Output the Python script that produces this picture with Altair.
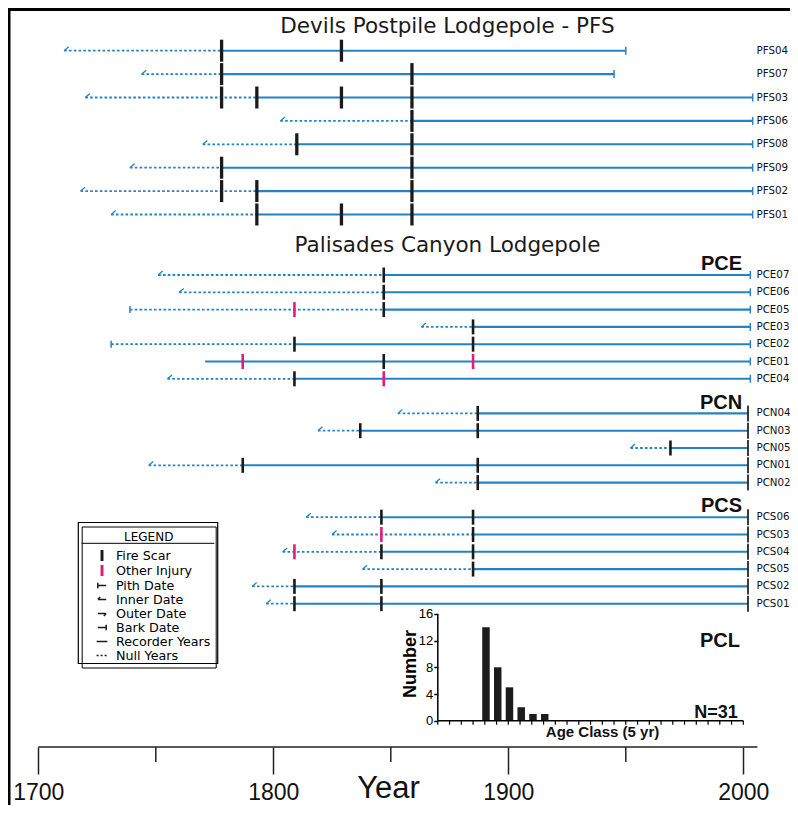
import altair as alt
import pandas as pd

# ---------------- values ----------------
PFS_TREES = ["PFS04", "PFS07", "PFS03", "PFS06", "PFS08", "PFS09", "PFS02", "PFS01"]
PFS_FIRST = [1711, 1744, 1720, 1803, 1770, 1739, 1718, 1731]
PFS_FIRST_KIND = ["inner", "inner", "inner", "inner", "inner", "inner", "inner", "inner"]
PFS_RECORD = [1778, 1778, 1793, 1859, 1810, 1778, 1793, 1793]
PFS_LAST = [1950, 1945, 2004, 2004, 2004, 2004, 2004, 2004]
PFS_SCARS = [[1778, 1829], [1778, 1859], [1778, 1793, 1829, 1859], [1859],
             [1810, 1859], [1778, 1859], [1778, 1793, 1859], [1793, 1829, 1859]]
PFS_INJURY = [[], [], [], [], [], [], [], []]

PCE_TREES = ["PCE07", "PCE06", "PCE05", "PCE03", "PCE02", "PCE01", "PCE04"]
PCE_FIRST = [1751, 1760, 1739, 1863, 1731, 1771, 1755]
PCE_FIRST_KIND = ["inner", "inner", "pith", "inner", "pith", "none", "inner"]
PCE_RECORD = [1847, 1847, 1847, 1885, 1809, 1771, 1809]
PCE_LAST = [2003, 2003, 2003, 2003, 2003, 2003, 2003]
PCE_SCARS = [[1847], [1847], [1847], [1885], [1809, 1885], [1847], [1809]]
PCE_INJURY = [[], [], [1809], [], [], [1787, 1885], [1847]]

PCN_TREES = ["PCN04", "PCN03", "PCN05", "PCN01", "PCN02"]
PCN_FIRST = [1853, 1819, 1952, 1747, 1869]
PCN_FIRST_KIND = ["inner", "inner", "inner", "inner", "inner"]
PCN_RECORD = [1887, 1837, 1969, 1787, 1887]
PCN_LAST = [2002, 2002, 2002, 2002, 2002]
PCN_SCARS = [[1887], [1837, 1887], [1969], [1787, 1887], [1887]]
PCN_INJURY = [[], [], [], [], []]

PCS_TREES = ["PCS06", "PCS03", "PCS04", "PCS05", "PCS02", "PCS01"]
PCS_FIRST = [1814, 1825, 1804, 1838, 1791, 1797]
PCS_FIRST_KIND = ["inner", "inner", "inner", "inner", "inner", "inner"]
PCS_RECORD = [1846, 1885, 1846, 1885, 1809, 1809]
PCS_LAST = [2002, 2002, 2002, 2002, 2002, 2002]
PCS_SCARS = [[1846, 1885], [1885], [1846, 1885], [1885], [1809, 1846], [1809, 1846]]
PCS_INJURY = [[], [1846], [1809], [], [], []]

AGE_CLASS_START = [1888, 1893, 1898, 1903, 1908, 1913]
AGE_CLASS_COUNT = [14, 8, 5, 2, 1, 1]
AGE_N = 31

YEAR_TICKS = [1700, 1800, 1900, 2000]
YEAR_MINOR = [1750, 1850, 1950]
YEAR_AXIS_SPAN = [1700, 2006]
HIST_Y_TICKS = [0, 4, 8, 12, 16]
HIST_X_TICKS = [1870, 1875, 1880, 1885, 1890, 1895, 1900, 1905, 1910, 1915, 1920,
                1925, 1930, 1935, 1940, 1945, 1950, 1955, 1960, 1965, 1970, 1975,
                1980, 1985, 1990, 1995, 2000]

TITLE_1 = "Devils Postpile Lodgepole - PFS"
TITLE_2 = "Palisades Canyon Lodgepole"
LEGEND_ITEMS = ["Fire Scar", "Other Injury", "Pith Date", "Inner Date",
                "Outer Date", "Bark Date", "Recorder Years", "Null Years"]

# ---------------- styles / layout ----------------
BLUE = "#2483c5"
BLACK = "#1a1a1a"
PINK = "#e4197c"
ROUND = "DejaVu Sans"
ARIAL = "Liberation Sans"

SVG_W, SVG_H = 782, 797
PLOT_W, PLOT_H = 782, 739
PX_PER_YEAR = 2.35
X0 = 1700 - 30.3 / PX_PER_YEAR
X1 = X0 + PLOT_W / PX_PER_YEAR
XSCALE = alt.Scale(domain=[X0, X1], nice=False, zero=False, padding=0)
YSCALE = alt.Scale(domain=[0, PLOT_H], reverse=True, nice=False, zero=False, padding=0)

PFS_ROW0, PFS_STEP = 42.7, 23.4
PC_ROW0, PC_STEP = 267.0, 17.3
PC_SLOT0 = {"PCE": 0, "PCN": 8, "PCS": 14}
END_STYLE = {"PFS": "bark", "PCE": "bark", "PCN": "black", "PCS": "black"}
LABEL_YEAR = 2005.6
GROUP_LABEL_YEAR = 1999.5
TITLE_YEAR = 1874.1

HIST_ZERO = 712.7
HIST_PX = 6.675
HIST_LO = -(PLOT_H - HIST_ZERO) / HIST_PX
HIST_HI = HIST_ZERO / HIST_PX
HSCALE = alt.Scale(domain=[HIST_LO, HIST_HI], nice=False, zero=False, padding=0)
HIST_X0_PX = (HIST_X_TICKS[0] - X0) * PX_PER_YEAR

YEAR_AXIS = alt.Axis(values=YEAR_TICKS, format="d", domain=False, grid=False, tickSize=27, tickWidth=1.5,
                     tickColor="#222", labelFont=ARIAL, labelFontSize=23, labelColor="#111",
                     labelPadding=30, labelBaseline="bottom", labelFlush=False, labelOverlap=False,
                     title="Year", titleFont=ARIAL, titleFontSize=31, titleFontWeight="normal",
                     titleColor="#111", titleX=380, titleY=57.5, titleBaseline="bottom",
                     titleAlign="center")
HIST_AXIS = alt.Axis(orient="left", offset=-HIST_X0_PX, values=HIST_Y_TICKS, domain=False, grid=False,
                     tickSize=4, tickWidth=1.5, tickColor="black", labelFont=ARIAL, labelFontSize=13,
                     labelColor="black", labelPadding=1, title="Number", titleFont=ARIAL,
                     titleFontSize=18, titleFontWeight="bold", titleColor="black", titleX=-27,
                     titleY=655.5, titleAngle=270, titleBaseline="middle", titleAlign="center")


def row_y(group, i):
    if group == "PFS":
        return PFS_ROW0 + PFS_STEP * i
    return PC_ROW0 + PC_STEP * (PC_SLOT0[group] + i)


def X(field="x"):
    return alt.X(f"{field}:Q", scale=XSCALE, axis=YEAR_AXIS)


def Y(field="y"):
    return alt.Y(f"{field}:Q", scale=YSCALE, axis=None)


def HY(field="y"):
    return alt.Y(f"{field}:Q", scale=HSCALE, axis=HIST_AXIS)


GROUPS = [
    ("PFS", PFS_TREES, PFS_FIRST, PFS_FIRST_KIND, PFS_RECORD, PFS_LAST, PFS_SCARS, PFS_INJURY),
    ("PCE", PCE_TREES, PCE_FIRST, PCE_FIRST_KIND, PCE_RECORD, PCE_LAST, PCE_SCARS, PCE_INJURY),
    ("PCN", PCN_TREES, PCN_FIRST, PCN_FIRST_KIND, PCN_RECORD, PCN_LAST, PCN_SCARS, PCN_INJURY),
    ("PCS", PCS_TREES, PCS_FIRST, PCS_FIRST_KIND, PCS_RECORD, PCS_LAST, PCS_SCARS, PCS_INJURY),
]

rows, nulls, recs, inner, pith, bark, endblk = [], [], [], [], [], [], []
scars_big, scars_small, injuries, glabels = [], [], [], []
for g, trees, first, fkind, rec, last, sc, inj in GROUPS:
    for i, t in enumerate(trees):
        y = row_y(g, i)
        rows.append({"tree": t, "x": LABEL_YEAR, "y": y})
        if first[i] < rec[i]:
            nulls.append({"x": first[i], "x2": rec[i], "y": y})
        recs.append({"x": rec[i], "x2": last[i], "y": y})
        if fkind[i] == "inner":
            inner.append({"x": first[i], "y": y})
        elif fkind[i] == "pith":
            pith.append({"x": first[i], "y": y})
        (bark if END_STYLE[g] == "bark" else endblk).append({"x": last[i], "y": y})
        for s in sc[i]:
            (scars_big if g == "PFS" else scars_small).append({"x": s, "y": y})
        for s in inj[i]:
            injuries.append({"x": s, "y": y})
    if g != "PFS":
        glabels.append({"t": g, "x": GROUP_LABEL_YEAR, "y": row_y(g, 0) - 4.8})


def df(r):
    return pd.DataFrame(r)


null_layer = alt.Chart(df(nulls)).mark_rule(color=BLUE, strokeWidth=1.8, strokeDash=[2.6, 2.2]).encode(
    x=X("x"), x2="x2:Q", y=Y("y"))
rec_layer = alt.Chart(df(recs)).mark_rule(color=BLUE, strokeWidth=2.1).encode(
    x=X("x"), x2="x2:Q", y=Y("y"))
inner_layer = alt.Chart(df(inner)).mark_point(
    shape="M0,0L1.5,-1.3", size=36, filled=False, color=BLUE, strokeWidth=1.3, opacity=1).encode(
    x=X("x"), y=Y("y"))
pith_layer = alt.Chart(df(pith)).mark_tick(orient="vertical", size=7, thickness=1.5, color=BLUE, opacity=1).encode(
    x=X("x"), y=Y("y"))
bark_layer = alt.Chart(df(bark)).mark_tick(orient="vertical", size=8, thickness=1.5, color=BLUE, opacity=1).encode(
    x=X("x"), y=Y("y"))
end_layer = alt.Chart(df(endblk)).mark_tick(orient="vertical", size=16, thickness=1.7, color=BLACK, opacity=1).encode(
    x=X("x"), y=Y("y"))
scar_big_layer = alt.Chart(df(scars_big)).mark_tick(orient="vertical", size=22, thickness=3.3, color=BLACK, opacity=1).encode(
    x=X("x"), y=Y("y"))
scar_small_layer = alt.Chart(df(scars_small)).mark_tick(orient="vertical", size=15, thickness=2.6, color=BLACK, opacity=1).encode(
    x=X("x"), y=Y("y"))
injury_layer = alt.Chart(df(injuries)).mark_tick(orient="vertical", size=15, thickness=2.6, color=PINK, opacity=1).encode(
    x=X("x"), y=Y("y"))

row_label_layer = alt.Chart(df(rows)).mark_text(
    align="left", baseline="middle", font=ROUND, fontSize=10.3, color="#111").encode(
    x=X("x"), y=Y("y"), text="tree:N")
group_label_layer = alt.Chart(df(glabels)).mark_text(
    align="right", baseline="alphabetic", font=ARIAL, fontSize=20, fontWeight="bold", color="#111").encode(
    x=X("x"), y=Y("y"), text="t:N")
titles_df = pd.DataFrame({"t": [TITLE_1, TITLE_2], "x": [TITLE_YEAR, TITLE_YEAR], "y": [24.7, 243.5]})
title_layer = alt.Chart(titles_df).mark_text(
    align="center", baseline="alphabetic", font=ROUND, fontSize=21.5, color="#1a1a1a").encode(
    x=X("x"), y=Y("y"), text="t:N")

axis_line = alt.Chart(pd.DataFrame({"x": [YEAR_AXIS_SPAN[0]], "x2": [YEAR_AXIS_SPAN[1]], "y": [PLOT_H]})).mark_rule(
    color="#222", strokeWidth=1.5).encode(x=X("x"), x2="x2:Q", y=Y("y"))
minor_df = pd.DataFrame({"x": YEAR_MINOR, "y": [PLOT_H] * len(YEAR_MINOR), "y2": [PLOT_H + 15] * len(YEAR_MINOR)})
minor_layer = alt.Chart(minor_df).mark_rule(color="#222", strokeWidth=1.5).encode(
    x=X("x"), y=Y("y"), y2="y2:Q")

frame_src = pd.DataFrame({"a": [0]})
left_border = alt.Chart(frame_src).mark_rule(color="black", strokeWidth=3).encode(
    x=alt.value(1), y=alt.value(0), y2=alt.value(SVG_H))
top_border = alt.Chart(frame_src).mark_rule(color="black", strokeWidth=3).encode(
    x=alt.value(0), x2=alt.value(SVG_W), y=alt.value(1.5))

# legend built from the library's legend (shape + colour + dash scales)
LEGEND_PATHS = ["M-0.12,-0.8L0.12,-0.8L0.12,0.8L-0.12,0.8Z",
                "M-0.12,-0.8L0.12,-0.8L0.12,0.8L-0.12,0.8Z",
                "M-0.7,-0.45L-0.7,0.45M-0.7,0L0.7,0",
                "M-0.7,0L0.7,0M-0.7,0L-0.3,-0.4",
                "M-0.7,0L0.7,0M0.7,0L0.3,0.4",
                "M-0.7,0L0.7,0M0.7,-0.45L0.7,0.45",
                "M-0.9,0L0.9,0",
                "M-0.9,0L0.9,0"]
LEGEND_COLORS = [BLACK, PINK, BLACK, BLACK, BLACK, BLACK, BLACK, BLACK]
LEGEND_DASH = [[1, 0], [1, 0], [1, 0], [1, 0], [1, 0], [1, 0], [1, 0], [2, 2]]
LEG = alt.Legend(title="LEGEND", orient="none", legendX=73.7, legendY=518.5, direction="vertical",
                 titleFont=ROUND, titleFontSize=12, titleFontWeight="normal", titleColor="black",
                 titleAnchor="middle", titleAlign="center", titlePadding=5,
                 labelFont=ROUND, labelFontSize=12.7, labelColor="black", labelLimit=300,
                 symbolSize=144, symbolStrokeWidth=1.5, symbolOffset=8.3, labelOffset=7,
                 padding=5, rowPadding=-1.4, strokeColor="black")
legend_df = pd.DataFrame({"item": LEGEND_ITEMS, "x": [1800] * len(LEGEND_ITEMS), "y": [-60] * len(LEGEND_ITEMS)})
legend_layer = alt.Chart(legend_df).mark_point(filled=False, clip=True, size=144, strokeWidth=1.5, opacity=1).encode(
    x=X("x"), y=Y("y"),
    shape=alt.Shape("item:N", scale=alt.Scale(domain=LEGEND_ITEMS, range=LEGEND_PATHS), legend=LEG),
    color=alt.Color("item:N", scale=alt.Scale(domain=LEGEND_ITEMS, range=LEGEND_COLORS), legend=LEG),
    strokeDash=alt.StrokeDash("item:N", scale=alt.Scale(domain=LEGEND_ITEMS, range=LEGEND_DASH), legend=LEG))
legend_frame = alt.Chart(frame_src).mark_rect(filled=False, color="black", strokeWidth=1.2).encode(
    x=alt.value(70.3), x2=alt.value(209.7), y=alt.value(514.5), y2=alt.value(655.5))
legend_sep = alt.Chart(frame_src).mark_rule(color="black", strokeWidth=1).encode(
    x=alt.value(73.7), x2=alt.value(206.3), y=alt.value(535.3))

main = alt.layer(null_layer, rec_layer, inner_layer, pith_layer, bark_layer, end_layer,
                 scar_big_layer, scar_small_layer, injury_layer, row_label_layer,
                 group_label_layer, title_layer, axis_line, minor_layer, left_border, top_border,
                 legend_frame, legend_sep, legend_layer)

# ---------------- histogram inset (PCL) ----------------
hist_df = pd.DataFrame({"x": [s + 2.5 for s in AGE_CLASS_START], "count": AGE_CLASS_COUNT})
bars = alt.Chart(hist_df).mark_bar(size=7.5, color="#1c1c1c").encode(
    x=X("x"), y=HY("count"), y2=alt.datum(0))
hx_line = alt.Chart(pd.DataFrame({"x": [HIST_X_TICKS[0]], "x2": [HIST_X_TICKS[-1]], "y": [0]})).mark_rule(
    color="black", strokeWidth=1.5).encode(x=X("x"), x2="x2:Q", y=HY("y"))
hy_line = alt.Chart(pd.DataFrame({"x": [HIST_X_TICKS[0]], "y": [HIST_Y_TICKS[0]], "y2": [HIST_Y_TICKS[-1]]})).mark_rule(
    color="black", strokeWidth=1.5).encode(x=X("x"), y=HY("y"), y2="y2:Q")
hticks_df = pd.DataFrame({"x": HIST_X_TICKS, "y": [0] * len(HIST_X_TICKS), "y2": [-0.6] * len(HIST_X_TICKS)})
hticks = alt.Chart(hticks_df).mark_rule(color="black", strokeWidth=1.2).encode(
    x=X("x"), y=HY("y"), y2="y2:Q")
htext_df = pd.DataFrame({"t": ["PCL", f"N={AGE_N}"], "x": [1998.6, 1997.7], "y": [11.09, 0.36],
                         "s": [20, 18]})
htext = alt.Chart(htext_df).mark_text(align="right", baseline="alphabetic", font=ARIAL,
                                      fontWeight="bold", color="#111").encode(
    x=X("x"), y=HY("y"), text="t:N", size=alt.Size("s:Q", scale=None))
hxtitle = alt.Chart(pd.DataFrame({"t": ["Age Class (5 yr)"], "x": [1940.1], "y": [-2.37]})).mark_text(
    align="center", baseline="alphabetic", font=ARIAL, fontSize=15, fontWeight="bold", color="#111").encode(
    x=X("x"), y=HY("y"), text="t:N")

hist = alt.layer(bars, hx_line, hy_line, hticks, htext, hxtitle)

chart = alt.layer(main, hist).resolve_scale(y="independent").properties(
    width=PLOT_W, height=PLOT_H,
    padding={"left": 0, "top": 0, "right": SVG_W - PLOT_W, "bottom": SVG_H - PLOT_H},
    autosize=alt.AutoSizeParams(type="none"),
    background="white",
).configure_view(stroke=None)

chart.save("out.html", embed_options={"renderer": "svg", "actions": False})
